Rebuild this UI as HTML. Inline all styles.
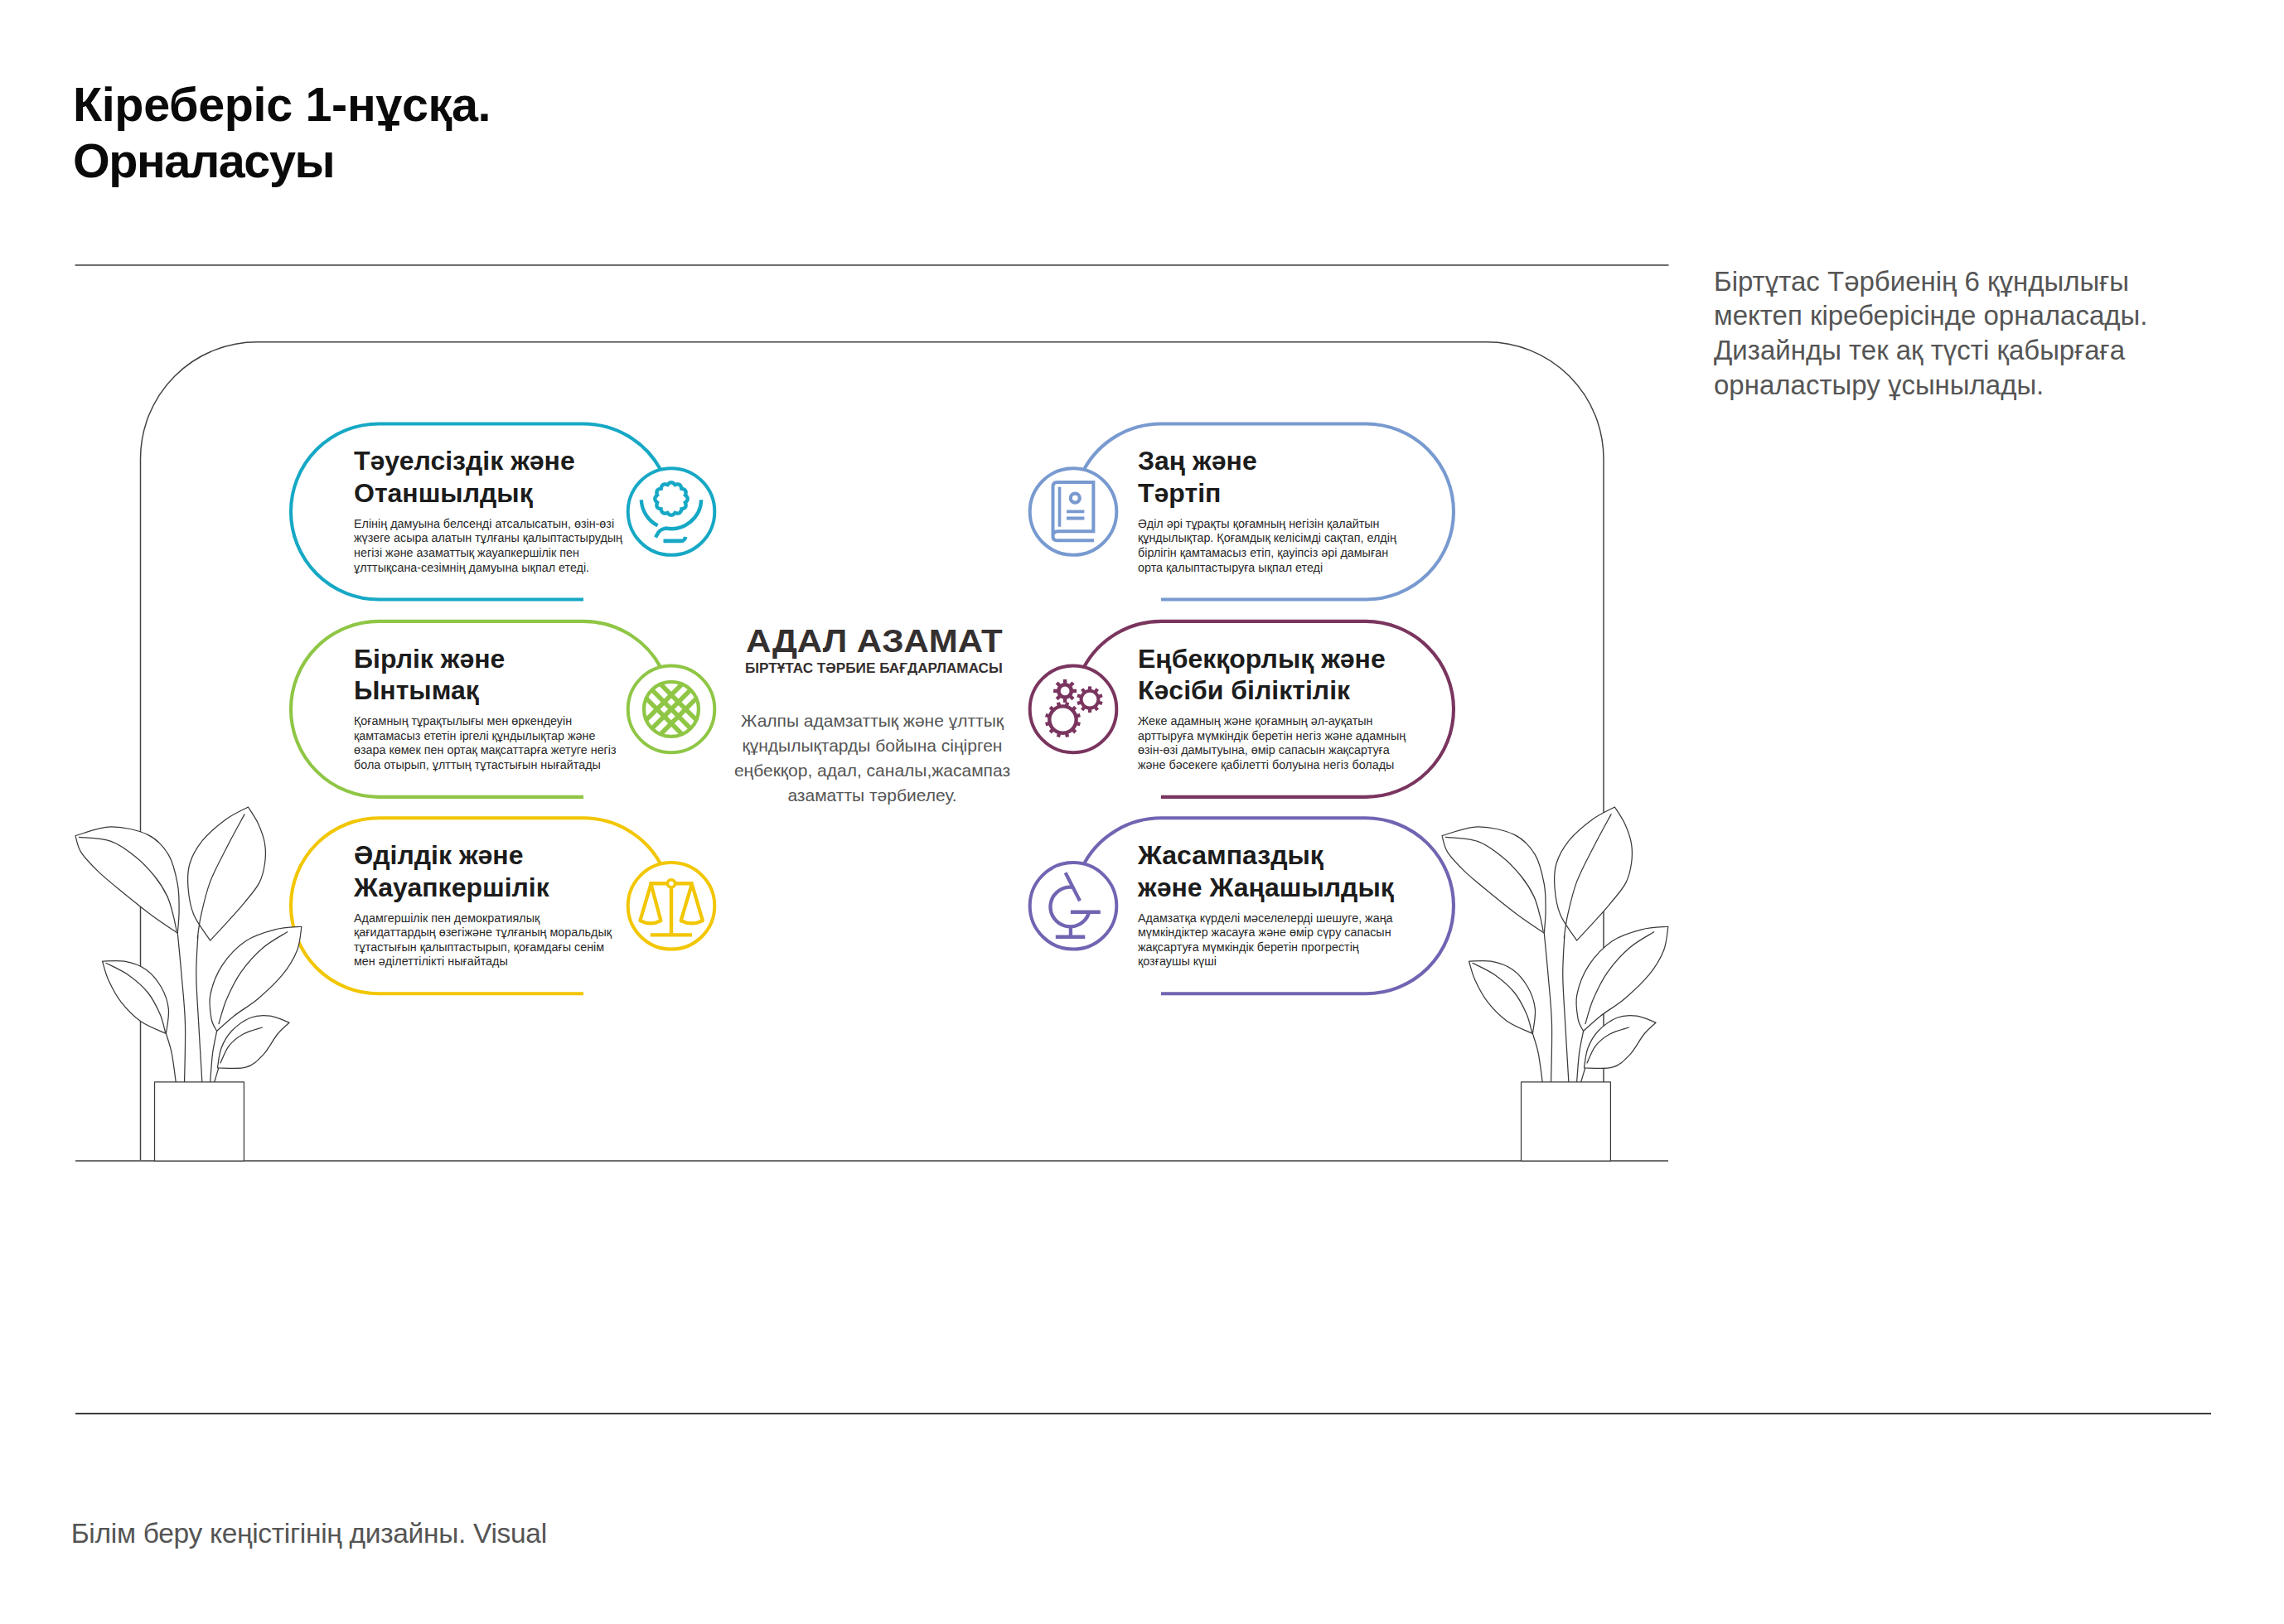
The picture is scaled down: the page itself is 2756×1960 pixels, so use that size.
<!DOCTYPE html>
<html><head><meta charset="utf-8"><style>
html,body{margin:0;padding:0;background:#fff;}
body{width:2756px;height:1960px;position:relative;overflow:hidden;font-family:"Liberation Sans",sans-serif;}
.t{position:absolute;white-space:nowrap;}
.h1{position:absolute;left:88px;top:91.5px;font-size:57.5px;font-weight:700;line-height:68px;color:#0a0a0a;white-space:nowrap;}
.side{position:absolute;left:2068px;top:318.5px;font-size:33px;line-height:41.8px;color:#555;white-space:nowrap;}
.foot{position:absolute;left:85.7px;top:1830.5px;font-size:33.5px;letter-spacing:-0.3px;color:#555;white-space:nowrap;line-height:40px;}
.ct{position:absolute;font-size:32px;font-weight:700;line-height:38.6px;color:#1c1c1c;white-space:nowrap;}
.cb{position:absolute;font-size:14.35px;line-height:17.6px;color:#2a2a2a;white-space:nowrap;}
.adal{position:absolute;left:899.6px;top:750.5px;transform-origin:0 0;transform:scaleX(1.077);font-size:39px;font-weight:700;color:#353030;white-space:nowrap;line-height:46px;}
.sub{position:absolute;left:899.4px;top:797px;transform-origin:0 0;transform:scaleX(1.04);font-size:16.5px;font-weight:700;color:#353030;white-space:nowrap;line-height:18px;}
.mid{position:absolute;left:852px;top:855px;width:401px;text-align:center;font-size:21px;line-height:30px;color:#555;white-space:nowrap;}
</style></head><body>
<svg width="2756" height="1960" viewBox="0 0 2756 1960" style="position:absolute;left:0;top:0"><line x1="90.5" y1="320" x2="2013.5" y2="320" stroke="#6e6e6e" stroke-width="1.9"/><line x1="91" y1="1706.2" x2="2668" y2="1706.2" stroke="#1c1c1c" stroke-width="1.8"/><path d="M169.5,1401 V553.7 A141,141 0 0 1 310.5,412.7 H1794 A141,141 0 0 1 1935,553.7 V1401" fill="none" stroke="#404040" stroke-width="1.45"/><line x1="91" y1="1401" x2="2013" y2="1401" stroke="#6f6f6f" stroke-width="1.9"/><path d="M797.10,566.82 A106.0,106.0 0 0 0 704.0,511.50 H457.0 A106.0,106.0 0 0 0 457.0,723.50 H704.0" fill="none" stroke="#16a8c5" stroke-width="4.1"/><circle cx="810.0" cy="617.5" r="52.3" fill="#fff" stroke="#16a8c5" stroke-width="4.0"/><g transform="translate(810.0 617.5)" fill="none" stroke="#16a8c5" stroke-width="4.2"><path d="M0.00,-35.20 L0.51,-35.16 L1.03,-35.06 L1.53,-34.89 L2.01,-34.66 L2.48,-34.36 L2.93,-34.02 L3.36,-33.64 L3.77,-33.21 L4.15,-32.77 L4.50,-32.31 L5.04,-32.53 L5.60,-32.72 L6.16,-32.89 L6.72,-33.01 L7.28,-33.08 L7.83,-33.10 L8.37,-33.05 L8.89,-32.95 L9.39,-32.79 L9.85,-32.56 L10.28,-32.27 L10.67,-31.93 L11.02,-31.53 L11.32,-31.08 L11.58,-30.59 L11.80,-30.07 L11.98,-29.53 L12.12,-28.96 L12.23,-28.38 L12.30,-27.80 L12.88,-27.73 L13.46,-27.62 L14.03,-27.48 L14.57,-27.30 L15.09,-27.08 L15.58,-26.82 L16.03,-26.52 L16.43,-26.17 L16.77,-25.78 L17.06,-25.35 L17.29,-24.89 L17.45,-24.39 L17.55,-23.87 L17.60,-23.33 L17.58,-22.78 L17.51,-22.22 L17.39,-21.66 L17.22,-21.10 L17.03,-20.54 L16.81,-20.00 L17.27,-19.65 L17.71,-19.27 L18.14,-18.86 L18.52,-18.43 L18.86,-17.98 L19.16,-17.51 L19.39,-17.03 L19.56,-16.53 L19.66,-16.01 L19.70,-15.50 L19.66,-14.99 L19.56,-14.47 L19.39,-13.97 L19.16,-13.49 L18.86,-13.02 L18.52,-12.57 L18.14,-12.14 L17.71,-11.73 L17.27,-11.35 L16.81,-11.00 L17.03,-10.46 L17.22,-9.90 L17.39,-9.34 L17.51,-8.78 L17.58,-8.22 L17.60,-7.67 L17.55,-7.13 L17.45,-6.61 L17.29,-6.11 L17.06,-5.65 L16.77,-5.22 L16.43,-4.83 L16.03,-4.48 L15.58,-4.18 L15.09,-3.92 L14.57,-3.70 L14.03,-3.52 L13.46,-3.38 L12.88,-3.27 L12.30,-3.20 L12.23,-2.62 L12.12,-2.04 L11.98,-1.47 L11.80,-0.93 L11.58,-0.41 L11.32,0.08 L11.02,0.53 L10.67,0.93 L10.28,1.27 L9.85,1.56 L9.39,1.79 L8.89,1.95 L8.37,2.05 L7.83,2.10 L7.28,2.08 L6.72,2.01 L6.16,1.89 L5.60,1.72 L5.04,1.53 L4.50,1.31 L4.15,1.77 L3.77,2.21 L3.36,2.64 L2.93,3.02 L2.48,3.36 L2.01,3.66 L1.53,3.89 L1.03,4.06 L0.51,4.16 L0.00,4.20 L-0.51,4.16 L-1.03,4.06 L-1.53,3.89 L-2.01,3.66 L-2.48,3.36 L-2.93,3.02 L-3.36,2.64 L-3.77,2.21 L-4.15,1.77 L-4.50,1.31 L-5.04,1.53 L-5.60,1.72 L-6.16,1.89 L-6.72,2.01 L-7.28,2.08 L-7.83,2.10 L-8.37,2.05 L-8.89,1.95 L-9.39,1.79 L-9.85,1.56 L-10.28,1.27 L-10.67,0.93 L-11.02,0.53 L-11.32,0.08 L-11.58,-0.41 L-11.80,-0.93 L-11.98,-1.47 L-12.12,-2.04 L-12.23,-2.62 L-12.30,-3.20 L-12.88,-3.27 L-13.46,-3.38 L-14.03,-3.52 L-14.57,-3.70 L-15.09,-3.92 L-15.58,-4.18 L-16.03,-4.48 L-16.43,-4.83 L-16.77,-5.22 L-17.06,-5.65 L-17.29,-6.11 L-17.45,-6.61 L-17.55,-7.13 L-17.60,-7.67 L-17.58,-8.22 L-17.51,-8.78 L-17.39,-9.34 L-17.22,-9.90 L-17.03,-10.46 L-16.81,-11.00 L-17.27,-11.35 L-17.71,-11.73 L-18.14,-12.14 L-18.52,-12.57 L-18.86,-13.02 L-19.16,-13.49 L-19.39,-13.97 L-19.56,-14.47 L-19.66,-14.99 L-19.70,-15.50 L-19.66,-16.01 L-19.56,-16.53 L-19.39,-17.03 L-19.16,-17.51 L-18.86,-17.98 L-18.52,-18.43 L-18.14,-18.86 L-17.71,-19.27 L-17.27,-19.65 L-16.81,-20.00 L-17.03,-20.54 L-17.22,-21.10 L-17.39,-21.66 L-17.51,-22.22 L-17.58,-22.78 L-17.60,-23.33 L-17.55,-23.87 L-17.45,-24.39 L-17.29,-24.89 L-17.06,-25.35 L-16.77,-25.78 L-16.43,-26.17 L-16.03,-26.52 L-15.58,-26.82 L-15.09,-27.08 L-14.57,-27.30 L-14.03,-27.48 L-13.46,-27.62 L-12.88,-27.73 L-12.30,-27.80 L-12.23,-28.38 L-12.12,-28.96 L-11.98,-29.53 L-11.80,-30.07 L-11.58,-30.59 L-11.32,-31.08 L-11.02,-31.53 L-10.67,-31.93 L-10.28,-32.27 L-9.85,-32.56 L-9.39,-32.79 L-8.89,-32.95 L-8.37,-33.05 L-7.83,-33.10 L-7.28,-33.08 L-6.72,-33.01 L-6.16,-32.89 L-5.60,-32.72 L-5.04,-32.53 L-4.50,-32.31 L-4.15,-32.77 L-3.77,-33.21 L-3.36,-33.64 L-2.93,-34.02 L-2.48,-34.36 L-2.01,-34.66 L-1.53,-34.89 L-1.03,-35.06 L-0.51,-35.16Z" stroke-width="4.4"/><path d="M-36.18,-14.24 A36.2,36.2 0 0 0 -16.43,16.75" stroke-width="4.4"/><path d="M36.18,-14.24 A36.2,36.2 0 0 1 -6.91,20.03 C-11.5,21 -14,22.5 -15.5,25 L-19,31" stroke-width="4.4"/><path d="M-9.5,35.4 H12 C14.5,35.4 16.5,33.5 17.3,30.5" stroke-width="4.6"/></g><path d="M797.10,805.22 A106.0,106.0 0 0 0 704.0,749.90 H457.0 A106.0,106.0 0 0 0 457.0,961.90 H704.0" fill="none" stroke="#8fc645" stroke-width="4.1"/><circle cx="810.0" cy="855.9" r="52.3" fill="#fff" stroke="#8fc645" stroke-width="4.0"/><g transform="translate(810.0 855.9)" fill="none" stroke="#8fc645" stroke-width="4.2"><circle cx="0" cy="0" r="33" stroke-width="4.3"/><clipPath id="lc1"><circle cx="0" cy="0" r="33"/></clipPath><g clip-path="url(#lc1)" stroke-width="5.6"><line x1="-48.63" y1="-31.37" x2="31.37" y2="48.63"/><line x1="-48.63" y1="31.37" x2="31.37" y2="-48.63"/><line x1="-40.00" y1="-40.00" x2="40.00" y2="40.00"/><line x1="-40.00" y1="40.00" x2="40.00" y2="-40.00"/><line x1="-31.37" y1="-48.63" x2="48.63" y2="31.37"/><line x1="-31.37" y1="48.63" x2="48.63" y2="-31.37"/></g></g><path d="M797.10,1042.62 A106.0,106.0 0 0 0 704.0,987.30 H457.0 A106.0,106.0 0 0 0 457.0,1199.30 H704.0" fill="none" stroke="#f2c600" stroke-width="4.1"/><circle cx="810.0" cy="1093.3" r="52.3" fill="#fff" stroke="#f2c600" stroke-width="4.0"/><g transform="translate(810.0 1093.3)" fill="none" stroke="#f2c600" stroke-width="4.2"><circle cx="0" cy="-27" r="4.6" stroke-width="3.6"/><path d="M-26.5,-27 H-4.6 M4.6,-27 H26.5" stroke-width="4.4"/><path d="M0,-22.4 V35" stroke-width="4.4"/><path d="M-25.2,35.1 H25.1" stroke-width="4.4"/><path d="M-24.5,-26.5 L-37.6,17.8 Q-25,24.5 -12.6,17.8 Z" stroke-width="4.2" stroke-linejoin="round"/><path d="M24.8,-26.5 L11.7,17.8 Q24.5,24.5 37.9,17.8 Z" stroke-width="4.2" stroke-linejoin="round"/></g><path d="M1307.90,566.82 A106.0,106.0 0 0 1 1401.0,511.50 H1648.0 A106.0,106.0 0 0 1 1648.0,723.50 H1401.0" fill="none" stroke="#789ad0" stroke-width="4.1"/><circle cx="1295.0" cy="617.5" r="52.3" fill="#fff" stroke="#789ad0" stroke-width="4.0"/><g transform="translate(1295.0 617.5)" fill="none" stroke="#789ad0" stroke-width="4.2"><path d="M-24.50,29.20 Q-24.50,23.70 -18.30,23.70 H24.40 V-35.50 H-19.30 Q-24.50,-35.50 -24.50,-30.30 V29.70 Q-24.50,34.80 -19.30,34.80 H25.20" stroke-width="4" stroke-linejoin="miter"/><path d="M-16.50,-29.80 V18.20" stroke-width="3.6"/><circle cx="2.30" cy="-16.40" r="5.5" stroke-width="4.2"/><path d="M-8.00,-0.20 H13.40 M-8.00,8.00 H13.40" stroke-width="3.8"/></g><path d="M1307.90,805.22 A106.0,106.0 0 0 1 1401.0,749.90 H1648.0 A106.0,106.0 0 0 1 1648.0,961.90 H1401.0" fill="none" stroke="#7a355f" stroke-width="4.1"/><circle cx="1295.0" cy="855.9" r="52.3" fill="#fff" stroke="#7a355f" stroke-width="4.0"/><g transform="translate(1295.0 855.9)" fill="none" stroke="#7a355f" stroke-width="4.2"></g><g transform="translate(1295.0 855.9)"><circle cx="-9.900000000000091" cy="-22.0" r="7.70" fill="none" stroke="#7a355f" stroke-width="4.60"/><rect x="-12.10" y="-36.00" width="4.4" height="5.00" fill="#7a355f" transform="rotate(0.0 -9.900000000000091 -22.0)"/><rect x="-12.10" y="-36.00" width="4.4" height="5.00" fill="#7a355f" transform="rotate(45.0 -9.900000000000091 -22.0)"/><rect x="-12.10" y="-36.00" width="4.4" height="5.00" fill="#7a355f" transform="rotate(90.0 -9.900000000000091 -22.0)"/><rect x="-12.10" y="-36.00" width="4.4" height="5.00" fill="#7a355f" transform="rotate(135.0 -9.900000000000091 -22.0)"/><rect x="-12.10" y="-36.00" width="4.4" height="5.00" fill="#7a355f" transform="rotate(180.0 -9.900000000000091 -22.0)"/><rect x="-12.10" y="-36.00" width="4.4" height="5.00" fill="#7a355f" transform="rotate(225.0 -9.900000000000091 -22.0)"/><rect x="-12.10" y="-36.00" width="4.4" height="5.00" fill="#7a355f" transform="rotate(270.0 -9.900000000000091 -22.0)"/><rect x="-12.10" y="-36.00" width="4.4" height="5.00" fill="#7a355f" transform="rotate(315.0 -9.900000000000091 -22.0)"/><circle cx="20.0" cy="-11.699999999999932" r="10.40" fill="none" stroke="#7a355f" stroke-width="4.00"/><rect x="17.90" y="-27.50" width="4.2" height="4.40" fill="#7a355f" transform="rotate(0.0 20.0 -11.699999999999932)"/><rect x="17.90" y="-27.50" width="4.2" height="4.40" fill="#7a355f" transform="rotate(36.0 20.0 -11.699999999999932)"/><rect x="17.90" y="-27.50" width="4.2" height="4.40" fill="#7a355f" transform="rotate(72.0 20.0 -11.699999999999932)"/><rect x="17.90" y="-27.50" width="4.2" height="4.40" fill="#7a355f" transform="rotate(108.0 20.0 -11.699999999999932)"/><rect x="17.90" y="-27.50" width="4.2" height="4.40" fill="#7a355f" transform="rotate(144.0 20.0 -11.699999999999932)"/><rect x="17.90" y="-27.50" width="4.2" height="4.40" fill="#7a355f" transform="rotate(180.0 20.0 -11.699999999999932)"/><rect x="17.90" y="-27.50" width="4.2" height="4.40" fill="#7a355f" transform="rotate(216.0 20.0 -11.699999999999932)"/><rect x="17.90" y="-27.50" width="4.2" height="4.40" fill="#7a355f" transform="rotate(252.0 20.0 -11.699999999999932)"/><rect x="17.90" y="-27.50" width="4.2" height="4.40" fill="#7a355f" transform="rotate(288.0 20.0 -11.699999999999932)"/><rect x="17.90" y="-27.50" width="4.2" height="4.40" fill="#7a355f" transform="rotate(324.0 20.0 -11.699999999999932)"/><circle cx="-12.5" cy="12.700000000000045" r="16.20" fill="none" stroke="#7a355f" stroke-width="4.40"/><rect x="-14.70" y="-8.90" width="4.4" height="4.20" fill="#7a355f" transform="rotate(15.0 -12.5 12.700000000000045)"/><rect x="-14.70" y="-8.90" width="4.4" height="4.20" fill="#7a355f" transform="rotate(45.0 -12.5 12.700000000000045)"/><rect x="-14.70" y="-8.90" width="4.4" height="4.20" fill="#7a355f" transform="rotate(75.0 -12.5 12.700000000000045)"/><rect x="-14.70" y="-8.90" width="4.4" height="4.20" fill="#7a355f" transform="rotate(105.0 -12.5 12.700000000000045)"/><rect x="-14.70" y="-8.90" width="4.4" height="4.20" fill="#7a355f" transform="rotate(135.0 -12.5 12.700000000000045)"/><rect x="-14.70" y="-8.90" width="4.4" height="4.20" fill="#7a355f" transform="rotate(165.0 -12.5 12.700000000000045)"/><rect x="-14.70" y="-8.90" width="4.4" height="4.20" fill="#7a355f" transform="rotate(195.0 -12.5 12.700000000000045)"/><rect x="-14.70" y="-8.90" width="4.4" height="4.20" fill="#7a355f" transform="rotate(225.0 -12.5 12.700000000000045)"/><rect x="-14.70" y="-8.90" width="4.4" height="4.20" fill="#7a355f" transform="rotate(255.0 -12.5 12.700000000000045)"/><rect x="-14.70" y="-8.90" width="4.4" height="4.20" fill="#7a355f" transform="rotate(285.0 -12.5 12.700000000000045)"/><rect x="-14.70" y="-8.90" width="4.4" height="4.20" fill="#7a355f" transform="rotate(315.0 -12.5 12.700000000000045)"/><rect x="-14.70" y="-8.90" width="4.4" height="4.20" fill="#7a355f" transform="rotate(345.0 -12.5 12.700000000000045)"/></g><path d="M1307.90,1042.62 A106.0,106.0 0 0 1 1401.0,987.30 H1648.0 A106.0,106.0 0 0 1 1648.0,1199.30 H1401.0" fill="none" stroke="#7264b2" stroke-width="4.1"/><circle cx="1295.0" cy="1093.3" r="52.3" fill="#fff" stroke="#7264b2" stroke-width="4.0"/><g transform="translate(1295.0 1093.3)" fill="none" stroke="#7264b2" stroke-width="4.2"><path d="M-9.40,-40.10 L8.00,-6.10" stroke-width="4.2"/><path d="M-0.39,-22.37 A23.8,23.8 0 1 0 18.80,8.95" stroke-width="4.3"/><path d="M-3.10,7.40 H32.80" stroke-width="4.6"/><path d="M-3.10,24.20 V37.20" stroke-width="4.3"/><path d="M-21.20,37.50 H14.30" stroke-width="4.6"/></g><g transform="translate(60 940) scale(0.29560)" fill="#fff" stroke="#3a3a3a" stroke-width="4.2" stroke-linejoin="round" stroke-linecap="round"><path fill="none" d="M522.0,630.0 C524.7,658.3 532.8,738.3 538.0,800.0 C543.2,861.7 551.0,927.0 553.0,1000.0 C555.0,1073.0 550.5,1198.3 550.0,1238.0"/><path fill="none" d="M605.0,640.0 C603.8,666.7 597.5,740.0 598.0,800.0 C598.5,860.0 604.0,927.0 608.0,1000.0 C612.0,1073.0 619.7,1198.3 622.0,1238.0"/><path fill="none" d="M475.0,1040.0 C478.8,1053.3 491.3,1087.0 498.0,1120.0 C504.7,1153.0 512.2,1218.3 515.0,1238.0"/><path fill="none" d="M682.0,1030.0 C679.2,1045.0 669.5,1085.3 665.0,1120.0 C660.5,1154.7 656.7,1218.3 655.0,1238.0"/><path fill="none" d="M690.0,1178.0 C687.0,1188.0 675.0,1228.0 672.0,1238.0"/><path d="M105.0,232.0 C129.2,226.0 200.8,196.7 250.0,196.0 C299.2,195.3 360.8,209.0 400.0,228.0 C439.2,247.0 464.7,276.3 485.0,310.0 C505.3,343.7 514.8,391.7 522.0,430.0 C529.2,468.3 528.0,506.7 528.0,540.0 C528.0,573.3 523.0,615.0 522.0,630.0 L522.0,630.0 C505.0,618.3 457.0,587.5 420.0,560.0 C383.0,532.5 336.7,495.0 300.0,465.0 C263.3,435.0 228.7,407.5 200.0,380.0 C171.3,352.5 143.8,324.7 128.0,300.0 C112.2,275.3 108.8,243.3 105.0,232.0Z"/><path fill="none" d="M120.0,238.0 C141.7,240.8 211.7,241.7 250.0,255.0 C288.3,268.3 320.0,293.8 350.0,318.0 C380.0,342.2 408.3,373.0 430.0,400.0 C451.7,427.0 467.5,453.3 480.0,480.0 C492.5,506.7 498.7,536.3 505.0,560.0 C511.3,583.7 515.8,611.7 518.0,622.0"/><path d="M810.0,115.0 C817.0,126.7 840.7,160.0 852.0,185.0 C863.3,210.0 873.7,238.3 878.0,265.0 C882.3,291.7 881.8,318.3 878.0,345.0 C874.2,371.7 868.8,398.3 855.0,425.0 C841.2,451.7 817.5,477.5 795.0,505.0 C772.5,532.5 743.3,564.2 720.0,590.0 C696.7,615.8 665.8,648.3 655.0,660.0 L655.0,660.0 C643.8,642.5 603.0,590.8 588.0,555.0 C573.0,519.2 567.7,480.0 565.0,445.0 C562.3,410.0 562.0,377.5 572.0,345.0 C582.0,312.5 600.3,280.0 625.0,250.0 C649.7,220.0 689.2,187.5 720.0,165.0 C750.8,142.5 795.0,123.3 810.0,115.0Z"/><path fill="none" d="M795.0,145.0 C782.5,168.3 743.3,239.2 720.0,285.0 C696.7,330.8 672.0,375.0 655.0,420.0 C638.0,465.0 626.7,516.7 618.0,555.0 C609.3,593.3 605.5,634.2 603.0,650.0"/><path d="M215.0,745.0 C230.0,745.0 275.5,739.5 305.0,745.0 C334.5,750.5 367.0,760.5 392.0,778.0 C417.0,795.5 439.5,823.0 455.0,850.0 C470.5,877.0 481.7,908.3 485.0,940.0 C488.3,971.7 476.7,1023.3 475.0,1040.0 L475.0,1040.0 C457.8,1031.7 402.5,1011.3 372.0,990.0 C341.5,968.7 314.0,940.0 292.0,912.0 C270.0,884.0 252.8,849.8 240.0,822.0 C227.2,794.2 219.2,757.8 215.0,745.0Z"/><path fill="none" d="M230.0,752.0 C245.0,760.0 291.7,780.0 320.0,800.0 C348.3,820.0 378.3,845.3 400.0,872.0 C421.7,898.7 438.0,932.8 450.0,960.0 C462.0,987.2 468.3,1022.5 472.0,1035.0"/><path d="M1028.0,603.0 C1010.0,605.0 958.0,605.2 920.0,615.0 C882.0,624.8 835.8,637.8 800.0,662.0 C764.2,686.2 729.0,723.7 705.0,760.0 C681.0,796.3 663.5,843.3 656.0,880.0 C648.5,916.7 655.7,955.0 660.0,980.0 C664.3,1005.0 678.3,1021.7 682.0,1030.0 L682.0,1030.0 C693.7,1019.7 724.0,990.0 752.0,968.0 C780.0,946.0 817.0,926.0 850.0,898.0 C883.0,870.0 923.3,833.0 950.0,800.0 C976.7,767.0 997.0,732.8 1010.0,700.0 C1023.0,667.2 1025.0,619.2 1028.0,603.0Z"/><path fill="none" d="M970.0,625.0 C953.3,635.8 901.7,662.5 870.0,690.0 C838.3,717.5 804.7,755.0 780.0,790.0 C755.3,825.0 737.0,865.0 722.0,900.0 C707.0,935.0 695.3,983.3 690.0,1000.0"/><path d="M978.0,995.0 C965.0,990.5 926.3,971.3 900.0,968.0 C873.7,964.7 846.3,964.7 820.0,975.0 C793.7,985.3 762.0,1009.2 742.0,1030.0 C722.0,1050.8 709.5,1075.0 700.0,1100.0 C690.5,1125.0 687.5,1166.7 685.0,1180.0 L685.0,1180.0 C704.2,1179.7 769.2,1186.7 800.0,1178.0 C830.8,1169.3 848.3,1150.7 870.0,1128.0 C891.7,1105.3 912.0,1064.2 930.0,1042.0 C948.0,1019.8 970.0,1002.8 978.0,995.0Z"/><path fill="none" d="M868.0,1015.0 C855.0,1019.5 812.7,1029.5 790.0,1042.0 C767.3,1054.5 747.5,1070.3 732.0,1090.0 C716.5,1109.7 702.8,1148.3 697.0,1160.0"/><rect x="428" y="1238" width="365" height="321.6"/></g><g transform="translate(1709 940) scale(0.29560)" fill="#fff" stroke="#3a3a3a" stroke-width="4.2" stroke-linejoin="round" stroke-linecap="round"><path fill="none" d="M522.0,630.0 C524.7,658.3 532.8,738.3 538.0,800.0 C543.2,861.7 551.0,927.0 553.0,1000.0 C555.0,1073.0 550.5,1198.3 550.0,1238.0"/><path fill="none" d="M605.0,640.0 C603.8,666.7 597.5,740.0 598.0,800.0 C598.5,860.0 604.0,927.0 608.0,1000.0 C612.0,1073.0 619.7,1198.3 622.0,1238.0"/><path fill="none" d="M475.0,1040.0 C478.8,1053.3 491.3,1087.0 498.0,1120.0 C504.7,1153.0 512.2,1218.3 515.0,1238.0"/><path fill="none" d="M682.0,1030.0 C679.2,1045.0 669.5,1085.3 665.0,1120.0 C660.5,1154.7 656.7,1218.3 655.0,1238.0"/><path fill="none" d="M690.0,1178.0 C687.0,1188.0 675.0,1228.0 672.0,1238.0"/><path d="M105.0,232.0 C129.2,226.0 200.8,196.7 250.0,196.0 C299.2,195.3 360.8,209.0 400.0,228.0 C439.2,247.0 464.7,276.3 485.0,310.0 C505.3,343.7 514.8,391.7 522.0,430.0 C529.2,468.3 528.0,506.7 528.0,540.0 C528.0,573.3 523.0,615.0 522.0,630.0 L522.0,630.0 C505.0,618.3 457.0,587.5 420.0,560.0 C383.0,532.5 336.7,495.0 300.0,465.0 C263.3,435.0 228.7,407.5 200.0,380.0 C171.3,352.5 143.8,324.7 128.0,300.0 C112.2,275.3 108.8,243.3 105.0,232.0Z"/><path fill="none" d="M120.0,238.0 C141.7,240.8 211.7,241.7 250.0,255.0 C288.3,268.3 320.0,293.8 350.0,318.0 C380.0,342.2 408.3,373.0 430.0,400.0 C451.7,427.0 467.5,453.3 480.0,480.0 C492.5,506.7 498.7,536.3 505.0,560.0 C511.3,583.7 515.8,611.7 518.0,622.0"/><path d="M810.0,115.0 C817.0,126.7 840.7,160.0 852.0,185.0 C863.3,210.0 873.7,238.3 878.0,265.0 C882.3,291.7 881.8,318.3 878.0,345.0 C874.2,371.7 868.8,398.3 855.0,425.0 C841.2,451.7 817.5,477.5 795.0,505.0 C772.5,532.5 743.3,564.2 720.0,590.0 C696.7,615.8 665.8,648.3 655.0,660.0 L655.0,660.0 C643.8,642.5 603.0,590.8 588.0,555.0 C573.0,519.2 567.7,480.0 565.0,445.0 C562.3,410.0 562.0,377.5 572.0,345.0 C582.0,312.5 600.3,280.0 625.0,250.0 C649.7,220.0 689.2,187.5 720.0,165.0 C750.8,142.5 795.0,123.3 810.0,115.0Z"/><path fill="none" d="M795.0,145.0 C782.5,168.3 743.3,239.2 720.0,285.0 C696.7,330.8 672.0,375.0 655.0,420.0 C638.0,465.0 626.7,516.7 618.0,555.0 C609.3,593.3 605.5,634.2 603.0,650.0"/><path d="M215.0,745.0 C230.0,745.0 275.5,739.5 305.0,745.0 C334.5,750.5 367.0,760.5 392.0,778.0 C417.0,795.5 439.5,823.0 455.0,850.0 C470.5,877.0 481.7,908.3 485.0,940.0 C488.3,971.7 476.7,1023.3 475.0,1040.0 L475.0,1040.0 C457.8,1031.7 402.5,1011.3 372.0,990.0 C341.5,968.7 314.0,940.0 292.0,912.0 C270.0,884.0 252.8,849.8 240.0,822.0 C227.2,794.2 219.2,757.8 215.0,745.0Z"/><path fill="none" d="M230.0,752.0 C245.0,760.0 291.7,780.0 320.0,800.0 C348.3,820.0 378.3,845.3 400.0,872.0 C421.7,898.7 438.0,932.8 450.0,960.0 C462.0,987.2 468.3,1022.5 472.0,1035.0"/><path d="M1028.0,603.0 C1010.0,605.0 958.0,605.2 920.0,615.0 C882.0,624.8 835.8,637.8 800.0,662.0 C764.2,686.2 729.0,723.7 705.0,760.0 C681.0,796.3 663.5,843.3 656.0,880.0 C648.5,916.7 655.7,955.0 660.0,980.0 C664.3,1005.0 678.3,1021.7 682.0,1030.0 L682.0,1030.0 C693.7,1019.7 724.0,990.0 752.0,968.0 C780.0,946.0 817.0,926.0 850.0,898.0 C883.0,870.0 923.3,833.0 950.0,800.0 C976.7,767.0 997.0,732.8 1010.0,700.0 C1023.0,667.2 1025.0,619.2 1028.0,603.0Z"/><path fill="none" d="M970.0,625.0 C953.3,635.8 901.7,662.5 870.0,690.0 C838.3,717.5 804.7,755.0 780.0,790.0 C755.3,825.0 737.0,865.0 722.0,900.0 C707.0,935.0 695.3,983.3 690.0,1000.0"/><path d="M978.0,995.0 C965.0,990.5 926.3,971.3 900.0,968.0 C873.7,964.7 846.3,964.7 820.0,975.0 C793.7,985.3 762.0,1009.2 742.0,1030.0 C722.0,1050.8 709.5,1075.0 700.0,1100.0 C690.5,1125.0 687.5,1166.7 685.0,1180.0 L685.0,1180.0 C704.2,1179.7 769.2,1186.7 800.0,1178.0 C830.8,1169.3 848.3,1150.7 870.0,1128.0 C891.7,1105.3 912.0,1064.2 930.0,1042.0 C948.0,1019.8 970.0,1002.8 978.0,995.0Z"/><path fill="none" d="M868.0,1015.0 C855.0,1019.5 812.7,1029.5 790.0,1042.0 C767.3,1054.5 747.5,1070.3 732.0,1090.0 C716.5,1109.7 702.8,1148.3 697.0,1160.0"/><rect x="428" y="1238" width="365" height="321.6"/></g></svg>
<div class="h1"><span style="letter-spacing:-0.35px">Кіреберіс 1-нұсқа.</span><br><span style="letter-spacing:-1.45px">Орналасуы</span></div>
<div class="side">Біртұтас Тәрбиенің 6 құндылығы<br>мектеп кіреберісінде орналасады.<br>Дизайнды тек ақ түсті қабырғаға<br>орналастыру ұсынылады.</div>
<div class="foot">Білім беру кеңістігінің дизайны. Visual</div>
<div class="adal">АДАЛ АЗАМАТ</div>
<div class="sub">БІРТҰТАС ТӘРБИЕ БАҒДАРЛАМАСЫ</div>
<div class="mid">Жалпы адамзаттық және ұлттық<br>құндылықтарды бойына сіңірген<br>еңбекқор, адал, саналы,жасампаз<br>азаматты тәрбиелеу.</div>
<div class="ct" style="left:427px;top:537.2px">Тәуелсіздік және<br>Отаншылдық</div><div class="cb" style="left:427px;top:623.9px">Елінің дамуына белсенді атсалысатын, өзін-өзі<br>жүзеге асыра алатын тұлғаны қалыптастырудың<br>негізі және азаматтық жауапкершілік пен<br>ұлттықсана-сезімнің дамуына ықпал етеді.</div><div class="ct" style="left:427px;top:775.6px">Бірлік және<br>Ынтымақ</div><div class="cb" style="left:427px;top:862.3px">Қоғамның тұрақтылығы мен өркендеуін<br>қамтамасыз ететін іргелі құндылықтар және<br>өзара көмек пен ортақ мақсаттарға жетуге негіз<br>бола отырып, ұлттың тұтастығын нығайтады</div><div class="ct" style="left:427px;top:1013.0px">Әділдік және<br>Жауапкершілік</div><div class="cb" style="left:427px;top:1099.7px">Адамгершілік пен демократиялық<br>қағидаттардың өзегіжәне тұлғаның моральдық<br>тұтастығын қалыптастырып, қоғамдағы сенім<br>мен әділеттілікті нығайтады</div><div class="ct" style="left:1373px;top:537.2px">Заң және<br>Тәртіп</div><div class="cb" style="left:1373px;top:623.9px">Әділ әрі тұрақты қоғамның негізін қалайтын<br>құндылықтар. Қоғамдық келісімді сақтап, елдің<br>бірлігін қамтамасыз етіп, қауіпсіз әрі дамыған<br>орта қалыптастыруға ықпал етеді</div><div class="ct" style="left:1373px;top:775.6px">Еңбекқорлық және<br>Кәсіби біліктілік</div><div class="cb" style="left:1373px;top:862.3px">Жеке адамның және қоғамның әл-ауқатын<br>арттыруға мүмкіндік беретін негіз және адамның<br>өзін-өзі дамытуына, өмір сапасын жақсартуға<br>және бәсекеге қабілетті болуына негіз болады</div><div class="ct" style="left:1373px;top:1013.0px">Жасампаздық<br>және Жаңашылдық</div><div class="cb" style="left:1373px;top:1099.7px">Адамзатқа күрделі мәселелерді шешуге, жаңа<br>мүмкіндіктер жасауға және өмір сүру сапасын<br>жақсартуға мүмкіндік беретін прогрестің<br>қозғаушы күші</div>
</body></html>
